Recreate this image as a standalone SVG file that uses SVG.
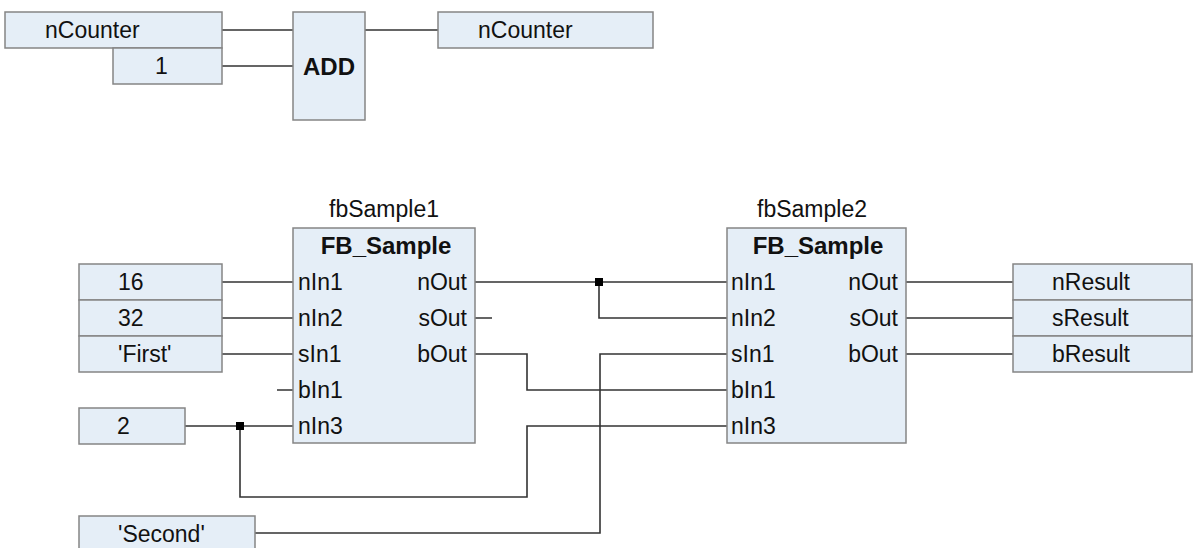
<svg xmlns="http://www.w3.org/2000/svg" width="1193" height="548" viewBox="0 0 1193 548">
<style>
.box{fill:#e5eef7;stroke:#858585;stroke-width:1.5}
.t{font-family:"Liberation Sans",Arial,sans-serif;font-size:23px;fill:#111}
.b{font-family:"Liberation Sans",Arial,sans-serif;font-size:24px;font-weight:bold;fill:#111}
.r{text-anchor:end}
.m{text-anchor:middle}
.w{fill:none;stroke:#333;stroke-width:1.6}
.j{fill:#000}
</style>
<rect width="1193" height="548" fill="#fff"/>
<g id="connectors">
<path class="w" d="M222 30H293M222 66H293M365 30H438"/>
<path class="w" d="M222 282H293M222 318H293M222 354H293M277 390H293M185 426H293"/>
<path class="w" d="M240 426V497H527V426H727"/>
<path class="w" d="M475 282H727M599 282V318H727M475 318H492M475 354H527V390H727"/>
<path class="w" d="M255 533H600V354H727"/>
<path class="w" d="M906 282H1013M906 318H1013M906 354H1013"/>
<rect class="j" x="236" y="422" width="8" height="8"/>
<rect class="j" x="595" y="278" width="8" height="8"/>
</g>
<g id="var_nCounter_in"><rect class="box" x="5" y="12" width="217" height="36"/><text class="t" x="45" y="38">nCounter</text></g>
<g id="const_1"><rect class="box" x="113" y="48" width="109" height="36"/><text class="t" x="155" y="74">1</text></g>
<g id="add"><rect class="box" x="293" y="12" width="72" height="108"/><text class="b" x="329" y="75" text-anchor="middle">ADD</text></g>
<g id="var_nCounter_out"><rect class="box" x="438" y="12" width="215" height="36"/><text class="t" x="478" y="38">nCounter</text></g>
<g id="const_16"><rect class="box" x="79" y="264" width="143" height="36"/><text class="t" x="118" y="290">16</text></g>
<g id="const_32"><rect class="box" x="79" y="300" width="143" height="36"/><text class="t" x="118" y="326">32</text></g>
<g id="const_first"><rect class="box" x="79" y="336" width="143" height="36"/><text class="t" x="118" y="362">'First'</text></g>
<g id="const_2"><rect class="box" x="79" y="408" width="106" height="36"/><text class="t" x="117" y="434">2</text></g>
<g id="const_second"><rect class="box" x="79" y="516" width="176" height="40"/><text class="t" x="118" y="542">'Second'</text></g>
<g id="fbSample1">
<text class="t m" x="384" y="217">fbSample1</text>
<rect class="box" x="293" y="228" width="182" height="215"/>
<text class="b m" x="386" y="254">FB_Sample</text>
<text class="t" x="298" y="290">nIn1</text>
<text class="t" x="298" y="326">nIn2</text>
<text class="t" x="298" y="362">sIn1</text>
<text class="t" x="298" y="398">bIn1</text>
<text class="t" x="298" y="434">nIn3</text>
<text class="t r" x="467" y="290">nOut</text>
<text class="t r" x="467" y="326">sOut</text>
<text class="t r" x="467" y="362">bOut</text>
</g>
<g id="fbSample2">
<text class="t m" x="812" y="217">fbSample2</text>
<rect class="box" x="727" y="228" width="179" height="215"/>
<text class="b m" x="818" y="254">FB_Sample</text>
<text class="t" x="731" y="290">nIn1</text>
<text class="t" x="731" y="326">nIn2</text>
<text class="t" x="731" y="362">sIn1</text>
<text class="t" x="731" y="398">bIn1</text>
<text class="t" x="731" y="434">nIn3</text>
<text class="t r" x="898" y="290">nOut</text>
<text class="t r" x="898" y="326">sOut</text>
<text class="t r" x="898" y="362">bOut</text>
</g>
<g id="nResult"><rect class="box" x="1013" y="264" width="179" height="36"/><text class="t" x="1052" y="290">nResult</text></g>
<g id="sResult"><rect class="box" x="1013" y="300" width="179" height="36"/><text class="t" x="1052" y="326">sResult</text></g>
<g id="bResult"><rect class="box" x="1013" y="336" width="179" height="36"/><text class="t" x="1052" y="362">bResult</text></g>
</svg>
